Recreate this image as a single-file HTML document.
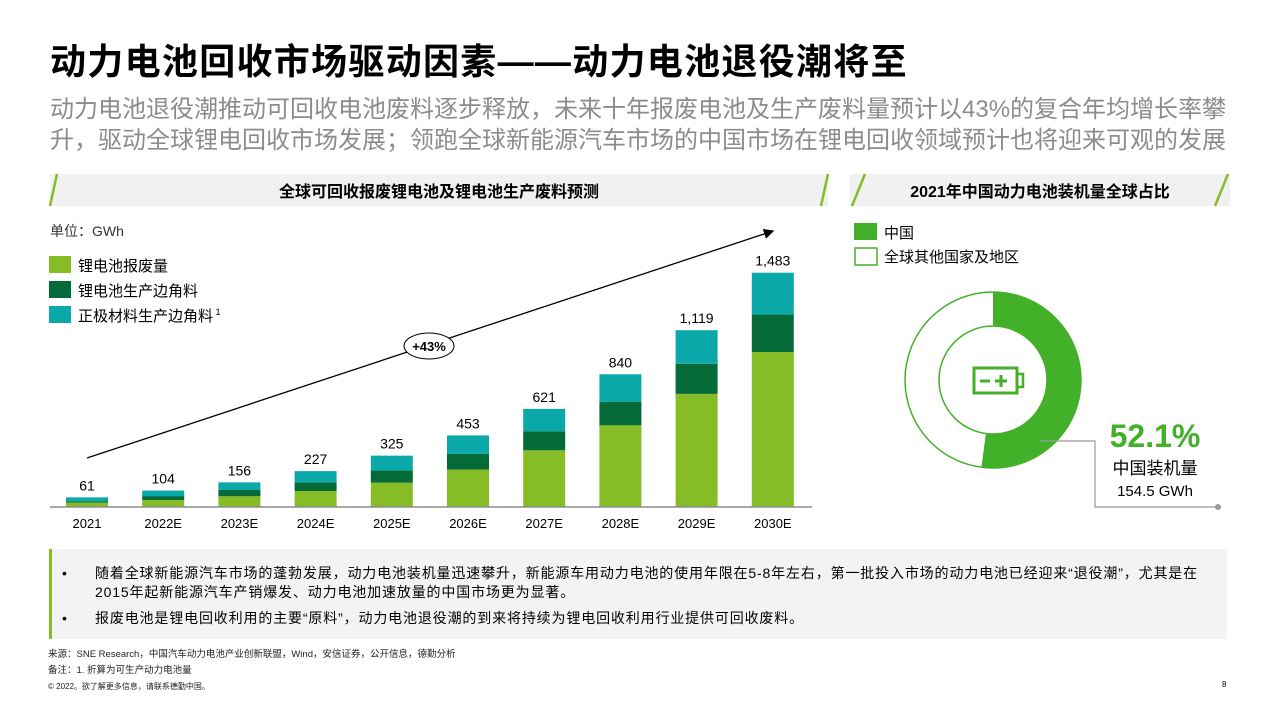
<!DOCTYPE html>
<html><head><meta charset="utf-8">
<style>
*{margin:0;padding:0;box-sizing:border-box}
body{width:1276px;height:718px;background:#fff;font-family:"Liberation Sans","Noto Sans CJK SC",sans-serif;position:relative;overflow:hidden;color:#000}
.abs{position:absolute}
</style></head><body>
<div class="abs" style="left:50px;top:40px;font-size:36px;font-weight:bold;line-height:44px;white-space:nowrap;letter-spacing:1.3px">动力电池回收市场驱动因素——动力电池退役潮将至</div>
<div class="abs" style="left:50px;top:94px;font-size:24px;line-height:31px;color:#8c8c8c;width:1200px;white-space:nowrap">动力电池退役潮推动可回收电池废料逐步释放，未来十年报废电池及生产废料量预计以43%的复合年均增长率攀<br>升，驱动全球锂电回收市场发展；领跑全球新能源汽车市场的中国市场在锂电回收领域预计也将迎来可观的发展</div>

<svg class="abs" style="left:0;top:0" width="1276" height="718">
  <g>
    <rect x="50" y="174" width="778" height="32" fill="#f1f1f1"/>
    <line x1="57" y1="174" x2="50" y2="206" stroke="#86bc25" stroke-width="2.5"/>
    <line x1="828" y1="174" x2="821" y2="206" stroke="#86bc25" stroke-width="2.5"/>
    <text x="439" y="197" text-anchor="middle" font-size="16" font-weight="bold" font-family="Liberation Sans, Noto Sans CJK SC, sans-serif">全球可回收报废锂电池及锂电池生产废料预测</text>
  </g>
  <g>
    <rect x="850" y="174" width="380" height="32" fill="#f1f1f1"/>
    <line x1="865" y1="174" x2="852" y2="206" stroke="#86bc25" stroke-width="2.5"/>
    <line x1="1228" y1="174" x2="1215" y2="206" stroke="#86bc25" stroke-width="2.5"/>
    <text x="1040" y="197" text-anchor="middle" font-size="16" font-weight="bold" font-family="Liberation Sans, Noto Sans CJK SC, sans-serif">2021年中国动力电池装机量全球占比</text>
  </g>
  <text x="50" y="236" font-size="14" fill="#333" font-family="Liberation Sans, Noto Sans CJK SC, sans-serif">单位：GWh</text>
  <g id="legend" font-size="15" font-family="Liberation Sans, Noto Sans CJK SC, sans-serif"></g>
  <g id="bars"></g>
  <line x1="50" y1="507" x2="812" y2="507" stroke="#8c8c8c" stroke-width="1.5"/>
  <g>
    <defs><marker id="ah" markerWidth="8" markerHeight="8" refX="7" refY="4" orient="auto"><path d="M0,0 L8,4 L0,8 z" fill="#000"/></marker></defs>
    <line x1="87" y1="458" x2="773" y2="231" stroke="#000" stroke-width="1.3" marker-end="url(#ah)"/>
    <ellipse cx="429" cy="346" rx="25" ry="13" fill="#fff" stroke="#000" stroke-width="1"/>
    <text x="429" y="351" text-anchor="middle" font-size="13" font-weight="bold">+43%</text>
  </g>
  <g id="donut"></g>
  <g font-size="15" font-family="Liberation Sans, Noto Sans CJK SC, sans-serif">
    <rect x="854" y="223" width="23" height="17" fill="#43b02a"/>
    <text x="884" y="238">中国</text>
    <rect x="855" y="248" width="22" height="17" fill="#fff" stroke="#43b02a" stroke-width="1.5"/>
    <text x="884" y="262">全球其他国家及地区</text>
  </g>
  <g stroke="#43b02a" fill="none" stroke-width="3">
    <rect x="974" y="368" width="43" height="25"/>
    <rect x="1017" y="374" width="6" height="13" stroke-width="2.5"/>
    <line x1="980" y1="381" x2="990" y2="381"/>
    <line x1="995" y1="381" x2="1007" y2="381"/>
    <line x1="1001" y1="375" x2="1001" y2="387"/>
  </g>
  <polyline points="1040,441 1095,441 1095,507 1218,507" fill="none" stroke="#999" stroke-width="1.2"/>
  <circle cx="1218" cy="507" r="3" fill="#999"/>
  <text x="1155" y="447" text-anchor="middle" font-size="32" font-weight="bold" fill="#43b02a">52.1%</text>
  <text x="1155" y="474" text-anchor="middle" font-size="17" font-family="Liberation Sans, Noto Sans CJK SC, sans-serif">中国装机量</text>
  <text x="1155" y="496" text-anchor="middle" font-size="15">154.5 GWh</text>
</svg>

<div class="abs" style="left:49px;top:549px;width:1178px;height:90px;background:#f3f3f3;border-left:3px solid #86bc25;font-size:14px;letter-spacing:0.85px;line-height:19px;padding:15px 0 0 10px;font-family:'Liberation Sans','Noto Sans CJK SC',sans-serif">
  <div style="display:flex"><span style="width:33px;flex:none">•</span><span style="width:1130px;white-space:nowrap">随着全球新能源汽车市场的蓬勃发展，动力电池装机量迅速攀升，新能源车用动力电池的使用年限在5-8年左右，第一批投入市场的动力电池已经迎来“退役潮”，尤其是在<br>2015年起新能源汽车产销爆发、动力电池加速放量的中国市场更为显著。</span></div>
  <div style="display:flex;margin-top:7px"><span style="width:33px;flex:none">•</span><span>报废电池是锂电回收利用的主要“原料”，动力电池退役潮的到来将持续为锂电回收利用行业提供可回收废料。</span></div>
</div>
<div class="abs" style="left:48px;top:647px;font-size:9.5px;line-height:16px;color:#222">来源：SNE Research，中国汽车动力电池产业创新联盟，Wind，安信证券，公开信息，德勤分析<br>备注：1. 折算为可生产动力电池量<br><span style="font-size:8px">© 2022。欲了解更多信息，请联系德勤中国。</span></div>
<div class="abs" style="left:1222px;top:680px;font-size:8px">8</div>

<script>
const categories=["2021","2022E","2023E","2024E","2025E","2026E","2027E","2028E","2029E","2030E"];
const scrapValues=[28,44,68,101,154,237,359,517,716,981];
const productionScrap=[8,25,40,55,78,99,120,148,190,237];
const cathodeScrap=[25,35,48,71,93,117,142,175,213,265];
const totalLabels=["61","104","156","227","325","453","621","840","1,119","1,483"];
const seriesNames=["锂电池报废量","锂电池生产边角料","正极材料生产边角料"];
const colors=["#86bc25","#046a38","#0aa8a8"];
const donutShare=[52.1,47.9];
const NS="http://www.w3.org/2000/svg";
const baseY=507, pxPer=0.158, x0=87, step=76.2, bw=42;
const xs=i=>x0+i*step;
const ys=v=>v*pxPer;
const bars=document.getElementById('bars');
const series=[scrapValues,productionScrap,cathodeScrap];
categories.forEach((c,i)=>{
  let acc=0;
  series.forEach((s,k)=>{
    const h=ys(s[i]);
    const r=document.createElementNS(NS,'rect');
    r.setAttribute('x',xs(i)-bw/2);r.setAttribute('y',baseY-ys(acc)-h);
    r.setAttribute('width',bw);r.setAttribute('height',h);r.setAttribute('fill',colors[k]);
    
    
    bars.appendChild(r);acc+=s[i];
  });
  const t=document.createElementNS(NS,'text');
  t.setAttribute('x',xs(i));t.setAttribute('y',baseY-ys(acc)-7);
  t.setAttribute('text-anchor','middle');t.setAttribute('font-size','14');
  t.textContent=totalLabels[i];
  
  
  bars.appendChild(t);
  const l=document.createElementNS(NS,'text');
  l.setAttribute('x',xs(i));l.setAttribute('y',528);
  l.setAttribute('text-anchor','middle');l.setAttribute('font-size','13');
  l.textContent=c;
  
  
  bars.appendChild(l);
});
const lg=document.getElementById('legend');
seriesNames.forEach((n,k)=>{
  const y=256+k*25;
  const r=document.createElementNS(NS,'rect');
  r.setAttribute('x',49);r.setAttribute('y',y);r.setAttribute('width',22);r.setAttribute('height',17);r.setAttribute('fill',colors[k]);
  
  
  lg.appendChild(r);
  const t=document.createElementNS(NS,'text');
  t.setAttribute('x',78);t.setAttribute('y',y+15);t.textContent=n;
  
  
  lg.appendChild(t);
});
const sup=document.createElementNS(NS,'tspan');sup.setAttribute('font-size','9');sup.setAttribute('dy','-6');sup.textContent=' 1';
lg.lastChild.appendChild(sup);
const cx=993,cy=380,R=88,r0=54;
const dg=document.getElementById('donut');
const bg=document.createElementNS(NS,'circle');
bg.setAttribute('cx',cx);bg.setAttribute('cy',cy);bg.setAttribute('r',R);bg.setAttribute('fill','#fff');bg.setAttribute('stroke','#43b02a');bg.setAttribute('stroke-width','1.5');


dg.appendChild(bg);
const a=donutShare[0]/100*2*Math.PI;
const p=(rr,ang)=>[cx+rr*Math.sin(ang),cy-rr*Math.cos(ang)];
const [ax,ay]=p(R,0),[bx,by]=p(R,a),[cx2,cy2]=p(r0,a),[dx,dy]=p(r0,0);
const lf=a>Math.PI?1:0;
const ic=document.createElementNS(NS,'circle');
ic.setAttribute('cx',cx);ic.setAttribute('cy',cy);ic.setAttribute('r',r0);ic.setAttribute('fill','#fff');ic.setAttribute('stroke','#43b02a');ic.setAttribute('stroke-width','1.5');


dg.appendChild(ic);
const path=document.createElementNS(NS,'path');
path.setAttribute('d',`M${ax},${ay} A${R},${R} 0 ${lf} 1 ${bx},${by} L${cx2},${cy2} A${r0},${r0} 0 ${lf} 0 ${dx},${dy} Z`);
path.setAttribute('fill','#43b02a');


dg.appendChild(path);
</script>
</body></html>
